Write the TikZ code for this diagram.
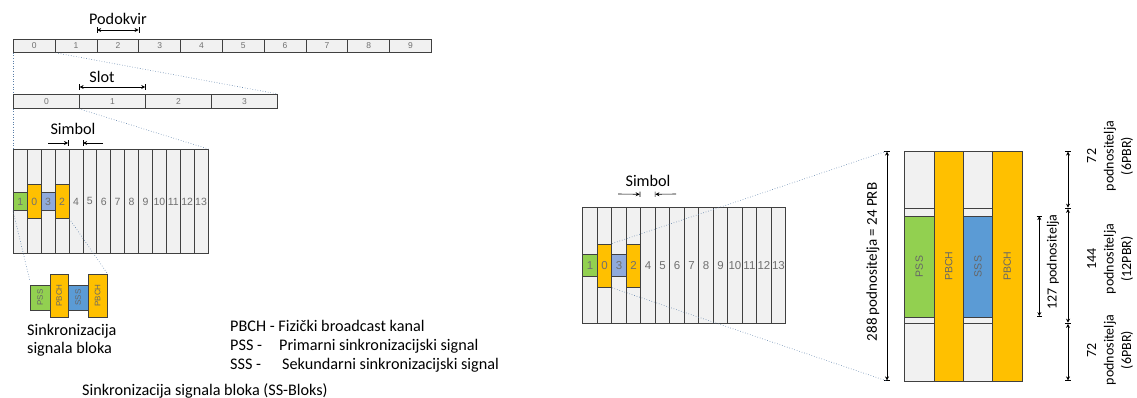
\documentclass[tikz,border=0pt]{standalone}
\usepackage{fontspec}
\setmainfont{Carlito}
\newfontfamily\arialfont{Liberation Sans}
\usepackage{tikz}
\usetikzlibrary{
    arrows.meta,
    positioning,
    calc
}
\definecolor{cellgray}{HTML}{F1F1F1}
\definecolor{edgegray}{HTML}{404040}
\definecolor{numgray}{HTML}{707070}
\definecolor{pssgreen}{HTML}{92D050}
\definecolor{pbchorange}{HTML}{FFC000}
\definecolor{sssblue}{HTML}{5B9BD5}
\definecolor{symblue}{HTML}{8FAADC}
\definecolor{zoomblue}{HTML}{5A7FA8}
\tikzstyle{cell} = [
    draw=edgegray,
    fill=cellgray,
    line width=0.8pt,
    inner sep=0pt,
    anchor=north west,
    text=numgray,
    font=\arialfont\fontsize{8.5}{8.5}\selectfont
]
\tikzstyle{chan} = [
    draw=edgegray,
    line width=0.8pt,
    inner sep=0pt,
    text=black!60,
    font=\arialfont\fontsize{10.5}{10.5}\selectfont
]
\tikzstyle{zoomline} = [
    dotted,
    line width=0.6pt,
    draw=zoomblue
]
\tikzstyle{dim} = [
    |<->|,
    >={Stealth[length=4pt,width=4pt]},
    line width=0.6pt
]
\tikzstyle{symarrow} = [
    ->|,
    >={Stealth[length=4pt,width=4pt]},
    line width=0.6pt
]
\tikzstyle{txt} = [
    inner sep=0pt,
    font=\fontsize{16.2}{18}\selectfont
]

\begin{document}
\begin{tikzpicture}[x=1pt, y=-1pt]
        \useasboundingbox (0,0) rectangle (1137,398);

        % Subframes
        \foreach \i in {0,...,9}
            \node[cell, minimum width=41.8pt, minimum height=13pt] (sf\i) at ({13+41.8*\i},39) {\i};
        \node[txt, anchor=base] (podokvir) at (118,25) {Podokvir};
        \draw[dim] ([yshift=9pt]sf2.north west) -- ([yshift=9pt]sf2.north east);

        % Slots
        \foreach \i in {0,...,3}
            \node[cell, minimum width=66pt, minimum height=14pt] (sl\i) at ({13+66*\i},94) {\i};
        \node[txt, anchor=base] (slot) at (102,83) {Slot};
        \draw[dim] ([yshift=7pt]sl1.north west) -- ([yshift=7pt]sl1.north east);
        \draw[zoomline] (sf0.south west) -- (sl0.north west);
        \draw[zoomline] (sf0.south east) -- (sl3.north east);

        % Symbols (left)
        \foreach \i/\t in {0/{},1/{},2/{},3/{},4/4,5/5,6/6,7/7,8/8,9/9,10/10,11/11,12/12,13/13}
            \node[cell, minimum width=13.9pt, minimum height=104pt, font=\arialfont\fontsize{10.5}{10.5}\selectfont] (a\i) at ({13+13.9*\i},149) {\t};
        \node[chan, fill=pssgreen, minimum width=13.9pt, minimum height=18pt, text=numgray] (aG) at (a0) {1};
        \node[chan, fill=pbchorange, minimum width=13.9pt, minimum height=34pt, text=numgray] (aO0) at (a1) {0};
        \node[chan, fill=symblue, minimum width=13.9pt, minimum height=18pt, text=numgray] (aB) at (a2) {3};
        \node[chan, fill=pbchorange, minimum width=13.9pt, minimum height=34pt, text=numgray] (aO2) at (a3) {2};
        \node[txt, anchor=base] (simbolA) at (73,135) {Simbol};
        \coordinate (smA1) at (48,143);
        \coordinate (smA2) at (103,143);
        \draw[symarrow] (smA1) -- ([yshift=6pt]a4.north west);
        \draw[symarrow] (smA2) -- ([yshift=6pt]a5.north west);
        \draw[zoomline] (sl0.south west) -- (a0.north west);
        \draw[zoomline] (sl1.south west) -- (a13.north east);

        % SS block (left)
        \node[chan, fill=pssgreen, minimum width=20pt, minimum height=25pt, font=\arialfont\fontsize{8}{8}\selectfont] (pssA) at (40,297.5) {\rotatebox{90}{PSS}};
        \node[chan, fill=pbchorange, minimum width=18pt, minimum height=43pt, font=\arialfont\fontsize{8}{8}\selectfont] (pbchA1) at (59,295.5) {\rotatebox{90}{PBCH}};
        \node[chan, fill=sssblue, minimum width=20pt, minimum height=25pt, font=\arialfont\fontsize{8}{8}\selectfont] (sssA) at (78,297.5) {\rotatebox{90}{SSS}};
        \node[chan, fill=pbchorange, minimum width=19pt, minimum height=43pt, font=\arialfont\fontsize{8}{8}\selectfont] (pbchA2) at (97.5,295.5) {\rotatebox{90}{PBCH}};
        \draw[zoomline] (aG.south west) -- ([yshift=5pt]pssA.north west);
        \draw[zoomline] (aO2.south east) -- (pbchA2.north east);

        % Texts
        \node[txt, anchor=base west, align=left] (ssname) at (27,353) {Sinkronizacija\\signala bloka};
        \node[txt, anchor=base west] (lgPBCH) at (230,331.7) {PBCH - Fizički broadcast kanal};
        \node[txt, anchor=base west] (lgPSS) at (230,350) {PSS -};
        \node[txt, anchor=base west] (lgPSSt) at (279,350) {Primarni sinkronizacijski signal};
        \node[txt, anchor=base west] (lgSSS) at (230,369.3) {SSS -};
        \node[txt, anchor=base west] (lgSSSt) at (282,369.3) {Sekundarni sinkronizacijski signal};
        \node[txt, anchor=base west] (title) at (82,395) {Sinkronizacija signala bloka (SS-Bloks)};

        % Symbols (right)
        \foreach \i/\t in {0/{},1/{},2/{},3/{},4/4,5/5,6/6,7/7,8/8,9/9,10/10,11/11,12/12,13/13}
            \node[cell, minimum width=14.5pt, minimum height=116pt, font=\arialfont\fontsize{11.5}{11.5}\selectfont] (b\i) at ({582.3+14.5*\i},207.3) {\t};
        \node[chan, fill=pssgreen, minimum width=14.5pt, minimum height=22pt, text=numgray, font=\arialfont\fontsize{11.5}{11.5}\selectfont] (bG) at (b0) {1};
        \node[chan, fill=pbchorange, minimum width=14.5pt, minimum height=43.5pt, text=numgray, font=\arialfont\fontsize{11.5}{11.5}\selectfont] (bO0) at (b1) {0};
        \node[chan, fill=symblue, minimum width=14.5pt, minimum height=22pt, text=numgray, font=\arialfont\fontsize{11.5}{11.5}\selectfont] (bB) at (b2) {3};
        \node[chan, fill=pbchorange, minimum width=14.5pt, minimum height=43.5pt, text=numgray, font=\arialfont\fontsize{11.5}{11.5}\selectfont] (bO2) at (b3) {2};
        \node[txt, anchor=base] (simbolB) at (648,186.7) {Simbol};
        \coordinate (smB1) at (618,194);
        \coordinate (smB2) at (676,194);
        \draw[symarrow] (smB1) -- ([yshift=13pt]b4.north west);
        \draw[symarrow] (smB2) -- ([yshift=13pt]b5.north west);

        % SS block (right)
        \foreach \x/\n/\c/\t in {904.3/1/pssgreen/PSS, 962.9/2/sssblue/SSS} {
            \node[cell, minimum width=29.3pt, minimum height=57.3pt] (top\n) at (\x,151) {};
            \node[cell, minimum width=29.3pt, minimum height=7.2pt] (stripT\n) at (\x,208.3) {};
            \node[chan, fill=\c, anchor=north west, minimum width=29.3pt, minimum height=101.2pt] (sig\n) at (\x,215.5) {\rotatebox{90}{\t}};
            \node[cell, minimum width=29.3pt, minimum height=6.6pt] (stripB\n) at (\x,316.7) {};
            \node[cell, minimum width=29.3pt, minimum height=57.7pt] (bot\n) at (\x,323.3) {};
        }
        \foreach \x/\n in {933.6/1, 992.2/2}
            \node[chan, fill=pbchorange, anchor=north west, minimum width=29.3pt, minimum height=230pt] (pbchB\n) at (\x,151) {\rotatebox{90}{PBCH}};

        % Dimensions
        \coordinate (d288t) at (887,151);
        \coordinate (d288b) at (887,381);
        \draw[dim] (d288t) -- (d288b);
        \node[txt, rotate=90, font=\fontsize{15}{18}\selectfont] (lab288) at (873,262) {288 podnositelja = 24 PRB};
        \draw[zoomline] (bO0.north east) -- (d288t);
        \draw[zoomline] (bO0.south east) -- (d288b);

        \coordinate (d127t) at (1039.3,215.5);
        \coordinate (d127b) at (1039.3,316.7);
        \draw[dim] (d127t) -- (d127b);
        \node[txt, rotate=90, font=\fontsize{14}{17}\selectfont] (lab127) at (1053,262) {127 podnositelja};

        \coordinate (dA) at (1068,151);
        \coordinate (dB) at (1068,208.3);
        \coordinate (dC) at (1068,323.3);
        \coordinate (dD) at (1068,381);
        \draw[dim] (dA) -- (dB);
        \draw[dim] (dB) -- (dC);
        \draw[dim] (dC) -- (dD);
        \node[txt, rotate=90, align=center, font=\fontsize{14}{17.5}\selectfont] (labTop) at (1110,156) {72\\podnositelja\\(6PBR)};
        \node[txt, rotate=90, align=center, font=\fontsize{14}{17.5}\selectfont] (labMid) at (1110,259) {144\\podnositelja\\(12PBR)};
        \node[txt, rotate=90, align=center, font=\fontsize{14}{17.5}\selectfont] (labBot) at (1110,350) {72\\podnositelja\\(6PBR)};
    \end{tikzpicture}
\end{document}
